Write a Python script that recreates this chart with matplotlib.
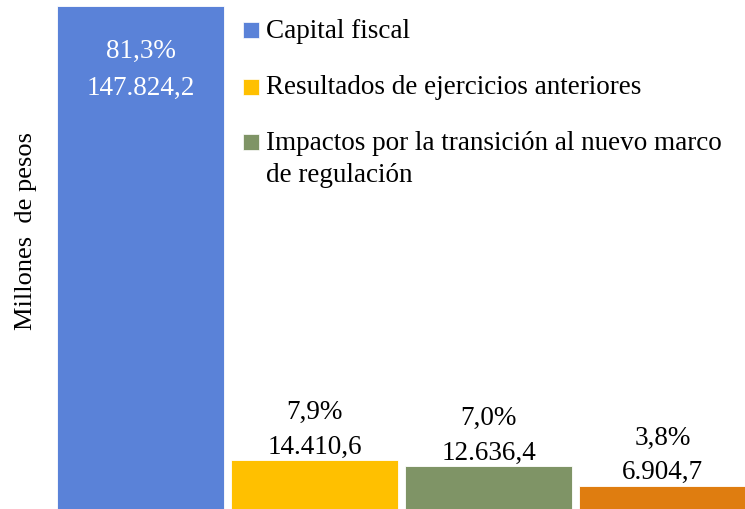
import matplotlib.pyplot as plt
from matplotlib.patches import Rectangle

# valores en millones de pesos
categorias = ['Capital fiscal',
              'Resultados de ejercicios anteriores',
              'Impactos por la transición al nuevo marco',
              'Otros']
categoria_extra = 'de regulación'
valores = [147824.2, 14410.6, 12636.4, 6904.7]
porcentajes = ['81,3%', '7,9%', '7,0%', '3,8%']
etiquetas = ['147.824,2', '14.410,6', '12.636,4', '6.904,7']
colores = ['#5A82D8', '#FFC000', '#7F9466', '#DF7D10']

plt.rcParams['font.family'] = ['Liberation Serif', 'DejaVu Serif']
fs = 19.5

fig = plt.figure(figsize=(7.45, 5.10), dpi=100)
ax = fig.add_axes([0, 0, 1, 1])

pos = list(range(len(valores)))
bars = ax.bar(pos, valores, width=0.955, color=colores, edgecolor='white', linewidth=0.6)

ax.set_xlim(-0.807, 3.474)
ax.set_ylim(0, 150000)
ax.axis('off')

for i, (b, v) in enumerate(zip(bars, valores)):
    txt = f'{porcentajes[i]}\n{etiquetas[i]}'
    cx = b.get_x() + b.get_width() / 2
    if i == 0:
        ax.annotate(txt, xy=(cx, v), xytext=(0, -23), textcoords='offset points',
                    ha='center', va='top', color='white', fontsize=fs, linespacing=1.6)
    else:
        ax.annotate(txt, xy=(cx, v), xytext=(0, 1), textcoords='offset points',
                    ha='center', va='bottom', color='black', fontsize=fs, linespacing=1.5)

# leyenda (solo las tres primeras series)
W, H = 745.0, 510.0
leg_y = [31, 88, 143]
for i in range(3):
    yc = 1 - leg_y[i] / H
    fig.patches.append(Rectangle((243 / W, yc - 8 / H), 16 / W, 16 / H,
                                 transform=fig.transFigure, facecolor=colores[i],
                                 edgecolor='white', linewidth=0.5))
    fig.text(266 / W, yc, categorias[i], ha='left', va='center', fontsize=fs)
fig.text(266 / W, 1 - 176 / H, categoria_extra, ha='left', va='center', fontsize=fs)

fig.text(0.035, 0.547, 'Millones  de pesos', rotation=90, ha='center', va='center', fontsize=19)

fig.savefig('out.png', dpi=100)
